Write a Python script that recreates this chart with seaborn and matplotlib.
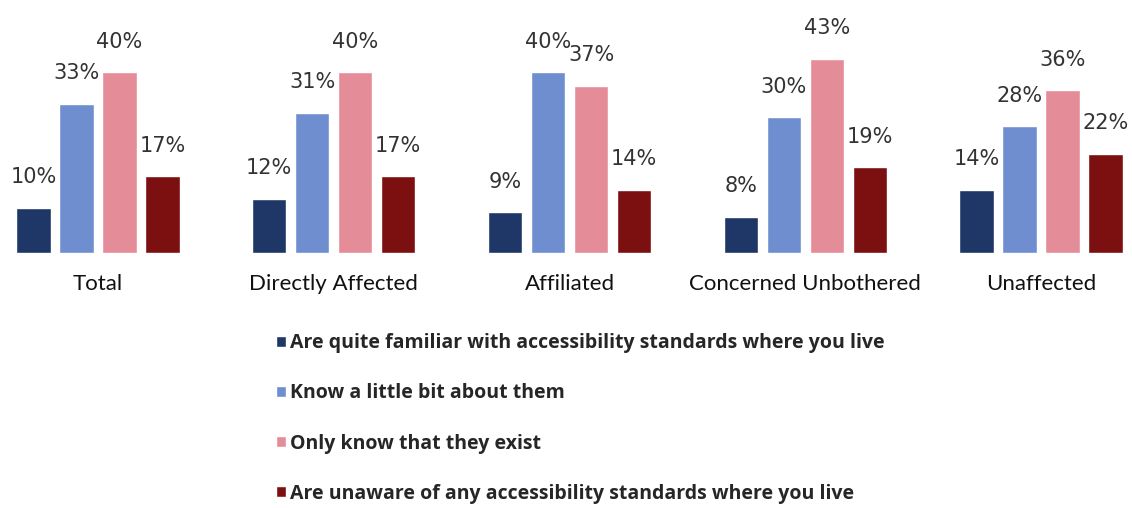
import matplotlib
matplotlib.use("Agg")
import matplotlib.pyplot as plt
import seaborn as sns
import pandas as pd

segments = ["Total", "Directly Affected", "Affiliated", "Concerned Unbothered", "Unaffected"]
awareness = [
    "Are quite familiar with accessibility standards where you live",
    "Know a little bit about them",
    "Only know that they exist",
    "Are unaware of any accessibility standards where you live",
]
quite_familiar = [10, 12, 9, 8, 14]
know_a_little = [33, 31, 40, 30, 28]
only_exist = [40, 40, 37, 43, 36]
unaware = [17, 17, 14, 19, 22]
colors = ["#1f3766", "#6f8ed0", "#e58c99", "#7c0f10"]

series = [quite_familiar, know_a_little, only_exist, unaware]
rows = []
for name, vals in zip(awareness, series):
    for seg, v in zip(segments, vals):
        rows.append({"segment": seg, "awareness": name, "pct": v})
df = pd.DataFrame(rows)

sns.set_theme(style="white")
plt.rcParams["font.family"] = ["Lato", "DejaVu Sans"]

fig = plt.figure(figsize=(11.32, 5.08), dpi=100)
ax = fig.add_axes([0.0, 0.502, 1.0, 0.498])

sns.barplot(data=df, x="segment", y="pct", hue="awareness", hue_order=awareness,
            order=segments, palette=colors, width=0.73, gap=0.2, ax=ax,
            saturation=1, legend=True)

ax.set_xlim(-0.4157, 4.386)
ax.set_ylim(0, 56)
for s in ax.spines.values():
    s.set_visible(False)
ax.set_yticks([])
ax.set_xlabel("")
ax.set_ylabel("")
ax.tick_params(axis="x", length=0, pad=15, labelsize=16, labelcolor="#111111")

# percentage labels above each bar
for container, vals in zip(ax.containers, series):
    for patch, v in zip(container.patches, vals):
        ax.annotate(f"{v}%", (patch.get_x() + patch.get_width() / 2, patch.get_height()),
                    xytext=(0, 22), textcoords="offset points", ha="center", va="center",
                    fontsize=15, color="#333333", family="DejaVu Sans")

handles, labels = ax.get_legend_handles_labels()
ax.get_legend().remove()
fig.legend(handles, labels, loc="upper left", bbox_to_anchor=(0.2438, 0.344),
           frameon=False, handlelength=0.5, handleheight=0.5, handletextpad=0.2,
           labelspacing=1.55, borderaxespad=0, borderpad=0,
           prop={"family": "Open Sans", "weight": "bold", "size": 14})

fig.savefig("out.png", dpi=100)
